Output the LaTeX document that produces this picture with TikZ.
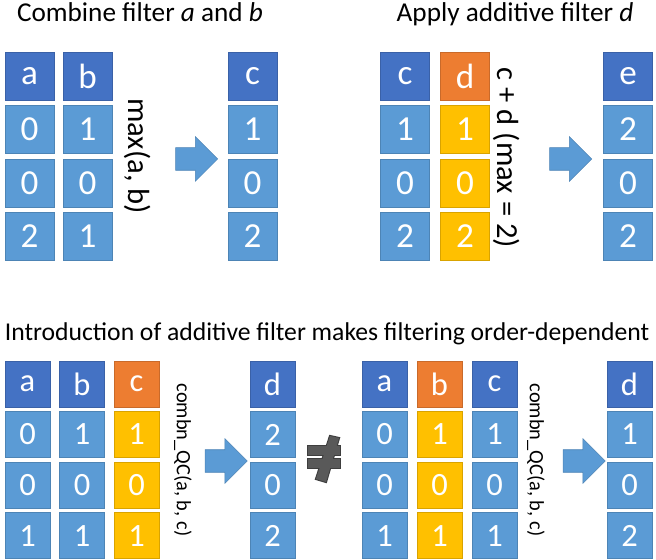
\documentclass[tikz,border=0pt]{standalone}
\usepackage{fontspec}
\setmainfont{Carlito}
\usepackage{xcolor}
\usepackage{tikz}
\usetikzlibrary{positioning, shapes.arrows}
\definecolor{headblue}{HTML}{4472C4}
\definecolor{cellblue}{HTML}{5B9BD5}
\definecolor{addorange}{HTML}{ED7D31}
\definecolor{addgold}{HTML}{FFC000}
\definecolor{neqgray}{HTML}{595959}

\begin{document}
\begin{tikzpicture}[
  x=0.02cm, y=-0.02cm,
  node distance=0.1cm,
  cell/.style={rectangle, inner sep=0pt, minimum width=0.98cm, minimum height=0.96cm, line width=0.3pt, text=white, font=\fontsize{20}{20}\selectfont},
  head/.style={cell, fill=headblue, draw=headblue!85!black},
  val/.style={cell, fill=cellblue, draw=cellblue!85!black},
  addhead/.style={cell, fill=addorange, draw=addorange!85!black},
  addval/.style={cell, fill=addgold, draw=addgold!85!black},
  small/.style={minimum width=0.9cm, minimum height=0.92cm, font=\fontsize{18.5}{18.5}\selectfont},
  title/.style={anchor=base, font=\fontsize{15.5}{16}\selectfont},
  op/.style={rotate=-90, font=\fontsize{17.4}{17.4}\selectfont},
  opsmall/.style={rotate=-90, font=\fontsize{11.6}{11.6}\selectfont},
  blockarr/.style={single arrow, fill=cellblue, draw=cellblue!85!black, line width=0.3pt, minimum height=0.84cm, inner xsep=0pt, inner ysep=0.22cm, single arrow head extend=0.22cm},
  neq/.style={fill=neqgray}
]
\useasboundingbox (0,0) rectangle (656,560);

% combine filter a and b
\node[title] (cmbTitle) at (140,22) {Combine filter \textit{a} and \textit{b}};
\node[head] (cmbA) at (29.5,76) {a};
\node[val, below=of cmbA] (cmbA1) {0};
\node[val, below=of cmbA1] (cmbA2) {0};
\node[val, below=of cmbA2] (cmbA3) {2};
\node[head] (cmbB) at (87.5,76) {b};
\node[val, below=of cmbB] (cmbB1) {1};
\node[val, below=of cmbB1] (cmbB2) {0};
\node[val, below=of cmbB2] (cmbB3) {1};
\node[op] (cmbOp) at (138,156) {max(a, b)};
\node[blockarr] (cmbArr) at (191,159) {};
\node[head] (cmbC) at (252.5,76) {c};
\node[val, below=of cmbC] (cmbC1) {1};
\node[val, below=of cmbC1] (cmbC2) {0};
\node[val, below=of cmbC2] (cmbC3) {2};

% apply additive filter d
\node[title] (addTitle) at (515,22) {Apply additive filter \textit{d}};
\node[head] (addC) at (405,76) {c};
\node[val, below=of addC] (addC1) {1};
\node[val, below=of addC1] (addC2) {0};
\node[val, below=of addC2] (addC3) {2};
\node[addhead] (addD) at (465,76) {d};
\node[addval, below=of addD] (addD1) {1};
\node[addval, below=of addD1] (addD2) {0};
\node[addval, below=of addD2] (addD3) {2};
\node[op] (addOp) at (507,158) {c + d (max = 2)};
\node[blockarr] (addArr) at (565,159) {};
\node[head] (addE) at (628,76) {e};
\node[val, below=of addE] (addE1) {2};
\node[val, below=of addE1] (addE2) {0};
\node[val, below=of addE2] (addE3) {2};

% order-dependent filtering
\node[title, font=\fontsize{14.6}{15}\selectfont] (ordTitle) at (327,341) {Introduction of additive filter makes filtering order-dependent};
\node[head, small] (ordA) at (27.5,384) {a};
\node[val, small, below=0.08cm of ordA] (ordA1) {0};
\node[val, small, below=0.08cm of ordA1] (ordA2) {0};
\node[val, small, below=0.08cm of ordA2] (ordA3) {1};
\node[head, small] (ordB) at (82,384) {b};
\node[val, small, below=0.08cm of ordB] (ordB1) {1};
\node[val, small, below=0.08cm of ordB1] (ordB2) {0};
\node[val, small, below=0.08cm of ordB2] (ordB3) {1};
\node[addhead, small] (ordC) at (136.5,384) {c};
\node[addval, small, below=0.08cm of ordC] (ordC1) {1};
\node[addval, small, below=0.08cm of ordC1] (ordC2) {0};
\node[addval, small, below=0.08cm of ordC2] (ordC3) {1};
\node[opsmall] (ordOp) at (183,460) {combn\_QC(a, b, c)};
\node[blockarr] (ordArr) at (220.5,461) {};
\node[head, small] (ordD) at (272.5,384) {d};
\node[val, small, below=0.08cm of ordD] (ordD1) {2};
\node[val, small, below=0.08cm of ordD1] (ordD2) {0};
\node[val, small, below=0.08cm of ordD2] (ordD3) {2};

% not equal
\begin{scope}[draw=neqgray!70!black, line width=1.2pt]
  \draw (308,446) rectangle (340,455);
  \draw (308,459) rectangle (340,468);
  \draw (330,436) -- (339,438) -- (326,482) -- (316,479) -- cycle;
\end{scope}
\fill[neq] (308,446) rectangle (340,455);
\fill[neq] (308,459) rectangle (340,468);
\fill[neq] (330,436) -- (339,438) -- (326,482) -- (316,479) -- cycle;

\node[head, small] (revA) at (384.5,384) {a};
\node[val, small, below=0.08cm of revA] (revA1) {0};
\node[val, small, below=0.08cm of revA1] (revA2) {0};
\node[val, small, below=0.08cm of revA2] (revA3) {1};
\node[addhead, small] (revB) at (439.5,384) {b};
\node[addval, small, below=0.08cm of revB] (revB1) {1};
\node[addval, small, below=0.08cm of revB1] (revB2) {0};
\node[addval, small, below=0.08cm of revB2] (revB3) {1};
\node[head, small] (revC) at (494.5,384) {c};
\node[val, small, below=0.08cm of revC] (revC1) {1};
\node[val, small, below=0.08cm of revC1] (revC2) {0};
\node[val, small, below=0.08cm of revC2] (revC3) {1};
\node[opsmall] (revOp) at (536,460) {combn\_QC(a, b, c)};
\node[blockarr] (revArr) at (578.5,461) {};
\node[head, small] (revD) at (629.5,384) {d};
\node[val, small, below=0.08cm of revD] (revD1) {1};
\node[val, small, below=0.08cm of revD1] (revD2) {0};
\node[val, small, below=0.08cm of revD2] (revD3) {2};
\end{tikzpicture}
\end{document}
